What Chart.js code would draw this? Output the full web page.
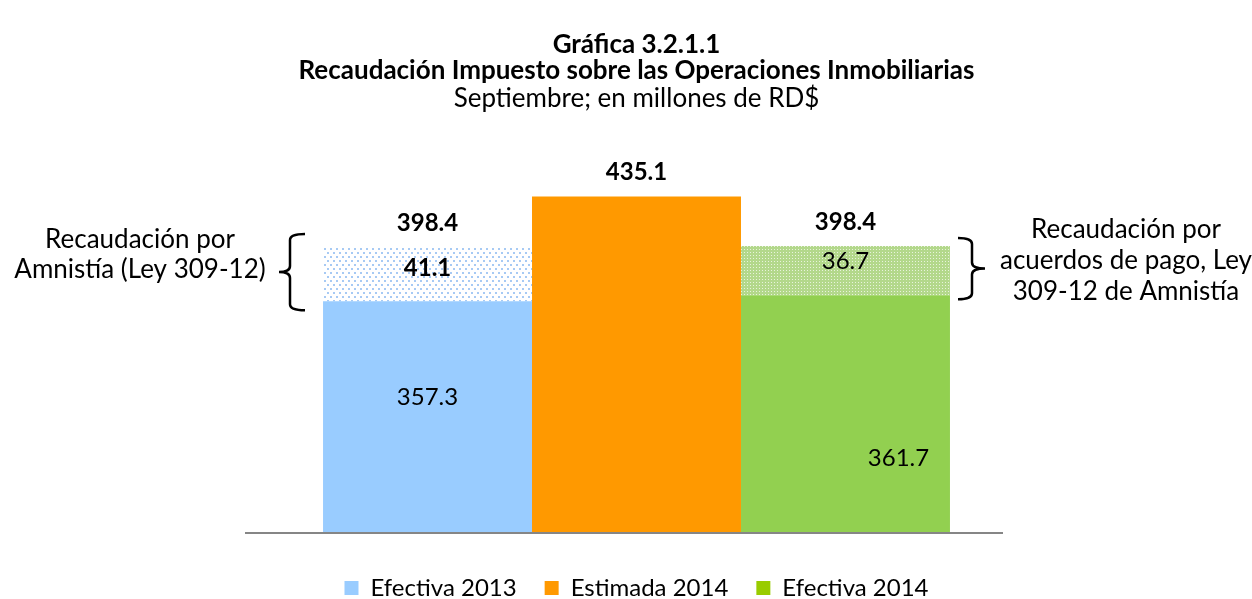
<!DOCTYPE html>
<html>
<head>
<meta charset="utf-8">
<script src="https://cdn.jsdelivr.net/npm/chart.js@4/dist/chart.umd.min.js"></script>
<style>
  html, body { margin: 0; padding: 0; background: #fff; }
</style>
</head>
<body>
<canvas id="chart" width="1252" height="599"></canvas>
<script>
// data (millones de RD$)
const categories = ["Septiembre"];
const efectiva2013 = [357.3];
const amnistia2013 = [41.1];
const estimada2014 = [435.1];
const efectiva2014 = [361.7];
const acuerdos2014 = [36.7];

const FONT = "Lato, 'Open Sans', sans-serif";

function makePattern(kind) {
  const c = document.createElement("canvas");
  const g = c.getContext("2d");
  if (kind === "dots") {
    c.width = 6; c.height = 8;
    g.fillStyle = "#ffffff"; g.fillRect(0, 0, 6, 8);
    g.fillStyle = "rgba(130,180,240,0.7)";
    g.fillRect(0, 0, 2, 2);
    g.fillRect(3, 4, 2, 2);
  } else {
    c.width = 3; c.height = 3;
    g.fillStyle = "#b3d88b"; g.fillRect(0, 0, 3, 3);
    g.fillStyle = "#e8f3dc";
    g.fillRect(0, 0, 1, 1);
  }
  return g.createPattern(c, "repeat");
}

// value labels and the two braces with their notes
const labelsPlugin = {
  id: "labels",
  afterDatasetsDraw(chart) {
    const ctx = chart.ctx;
    const bottom = chart.chartArea.bottom;
    ctx.save();
    ctx.textAlign = "center";
    ctx.textBaseline = "middle";
    ctx.fillStyle = "#000";
    const el = (i) => chart.getDatasetMeta(i).data[0];
    const mid = (b) => (b.y + Math.min(b.base, bottom)) / 2;
    const txt = (s, x, y, bold) => {
      ctx.font = (bold ? "bold " : "") + "24px " + FONT;
      ctx.fillText(s, x, y);
    };
    const b0 = el(0), b1 = el(1), b2 = el(2), b3 = el(3), b4 = el(4);
    txt(efectiva2013[0].toFixed(1), b0.x, mid(b0) - 19, false);
    txt(amnistia2013[0].toFixed(1), b1.x, mid(b1) - 5, true);
    txt((efectiva2013[0] + amnistia2013[0]).toFixed(1), b1.x, b1.y - 23, true);
    txt(estimada2014[0].toFixed(1), b2.x, b2.y - 24, true);
    txt(efectiva2014[0].toFixed(1), b3.x + 53, mid(b3) + 45, false);
    txt(acuerdos2014[0].toFixed(1), b4.x, mid(b4) - 9, false);
    txt((efectiva2014[0] + acuerdos2014[0]).toFixed(1), b4.x, b4.y - 24, true);

    // braces
    ctx.strokeStyle = "#000";
    ctx.lineWidth = 2.5;
    const brace = (xHook, xStem, xTip, y1, y2) => {
      const ym = (y1 + y2) / 2;
      const r = 6;
      ctx.beginPath();
      ctx.moveTo(xHook, y1);
      ctx.quadraticCurveTo(xStem, y1, xStem, y1 + r);
      ctx.lineTo(xStem, ym - r);
      ctx.quadraticCurveTo(xStem, ym, xTip, ym);
      ctx.quadraticCurveTo(xStem, ym, xStem, ym + r);
      ctx.lineTo(xStem, y2 - r);
      ctx.quadraticCurveTo(xStem, y2, xHook, y2);
      ctx.stroke();
    };
    brace(305, 290, 279, b1.y - 12, b1.base + 9);
    brace(958, 972, 985, b4.y - 8, b4.base + 4);

    ctx.font = "26px " + FONT;
    ctx.fillText("Recaudación por", 140, 240);
    ctx.fillText("Amnistía (Ley 309-12)", 140, 270);
    ctx.fillText("Recaudación por", 1126, 230);
    ctx.fillText("acuerdos de pago, Ley", 1126, 261);
    ctx.fillText("309-12 de Amnistía", 1126, 292);
    ctx.restore();
  }
};

// horizontal axis line
const axisPlugin = {
  id: "axisLine",
  afterDatasetsDraw(chart) {
    const ctx = chart.ctx;
    const y = chart.chartArea.bottom;
    ctx.save();
    ctx.strokeStyle = "#868686";
    ctx.lineWidth = 2;
    ctx.beginPath();
    ctx.moveTo(245, y + 1);
    ctx.lineTo(1003, y + 1);
    ctx.stroke();
    ctx.restore();
  }
};

const legendColors = ["#99ccff", "#ff9900", "#99cc00"];

new Chart(document.getElementById("chart"), {
  type: "bar",
  data: {
    labels: categories,
    datasets: [
      { label: "Efectiva 2013", data: efectiva2013, stack: "a", backgroundColor: "#99ccff" },
      { label: "Amnistía 2013", data: amnistia2013, stack: "a", backgroundColor: makePattern("dots") },
      { label: "Estimada 2014", data: estimada2014, stack: "b", backgroundColor: "#ff9900" },
      { label: "Efectiva 2014", data: efectiva2014, stack: "c", backgroundColor: "#92d050" },
      { label: "Acuerdos 2014", data: acuerdos2014, stack: "c", backgroundColor: makePattern("checks") }
    ]
  },
  options: {
    responsive: false,
    animation: false,
    devicePixelRatio: 1,
    layout: { padding: { left: 257, right: 236, top: 0, bottom: -11 } },
    datasets: { bar: { categoryPercentage: 0.826, barPercentage: 1, borderWidth: 0 } },
    scales: {
      x: {
        stacked: true,
        display: true,
        grid: { display: false },
        border: { display: false },
        ticks: { display: false },
        afterFit: (s) => { s.height = 16; }
      },
      y: { stacked: true, display: false, min: 186, max: 487 }
    },
    plugins: {
      tooltip: { enabled: false },
      title: {
        display: true,
        text: ["Gráfica 3.2.1.1", "Recaudación Impuesto sobre las Operaciones Inmobiliarias"],
        color: "#000",
        font: { family: FONT, size: 26, weight: "bold", lineHeight: 1.02 },
        padding: { top: 31, bottom: 0 }
      },
      subtitle: {
        display: true,
        text: "Septiembre; en millones de RD$",
        color: "#000",
        font: { family: FONT, size: 26, weight: "normal", lineHeight: 1.02 },
        padding: { top: 1, bottom: 15 }
      },
      legend: {
        position: "bottom",
        labels: {
          color: "#000",
          font: { family: FONT, size: 24 },
          boxWidth: 14,
          boxHeight: 14,
          padding: 28,
          generateLabels: (chart) => [0, 2, 3].map((i, k) => ({
            text: chart.data.datasets[i].label,
            fillStyle: legendColors[k],
            strokeStyle: legendColors[k],
            lineWidth: 0,
            datasetIndex: i
          }))
        }
      }
    }
  },
  plugins: [labelsPlugin, axisPlugin]
});
</script>
</body>
</html>
